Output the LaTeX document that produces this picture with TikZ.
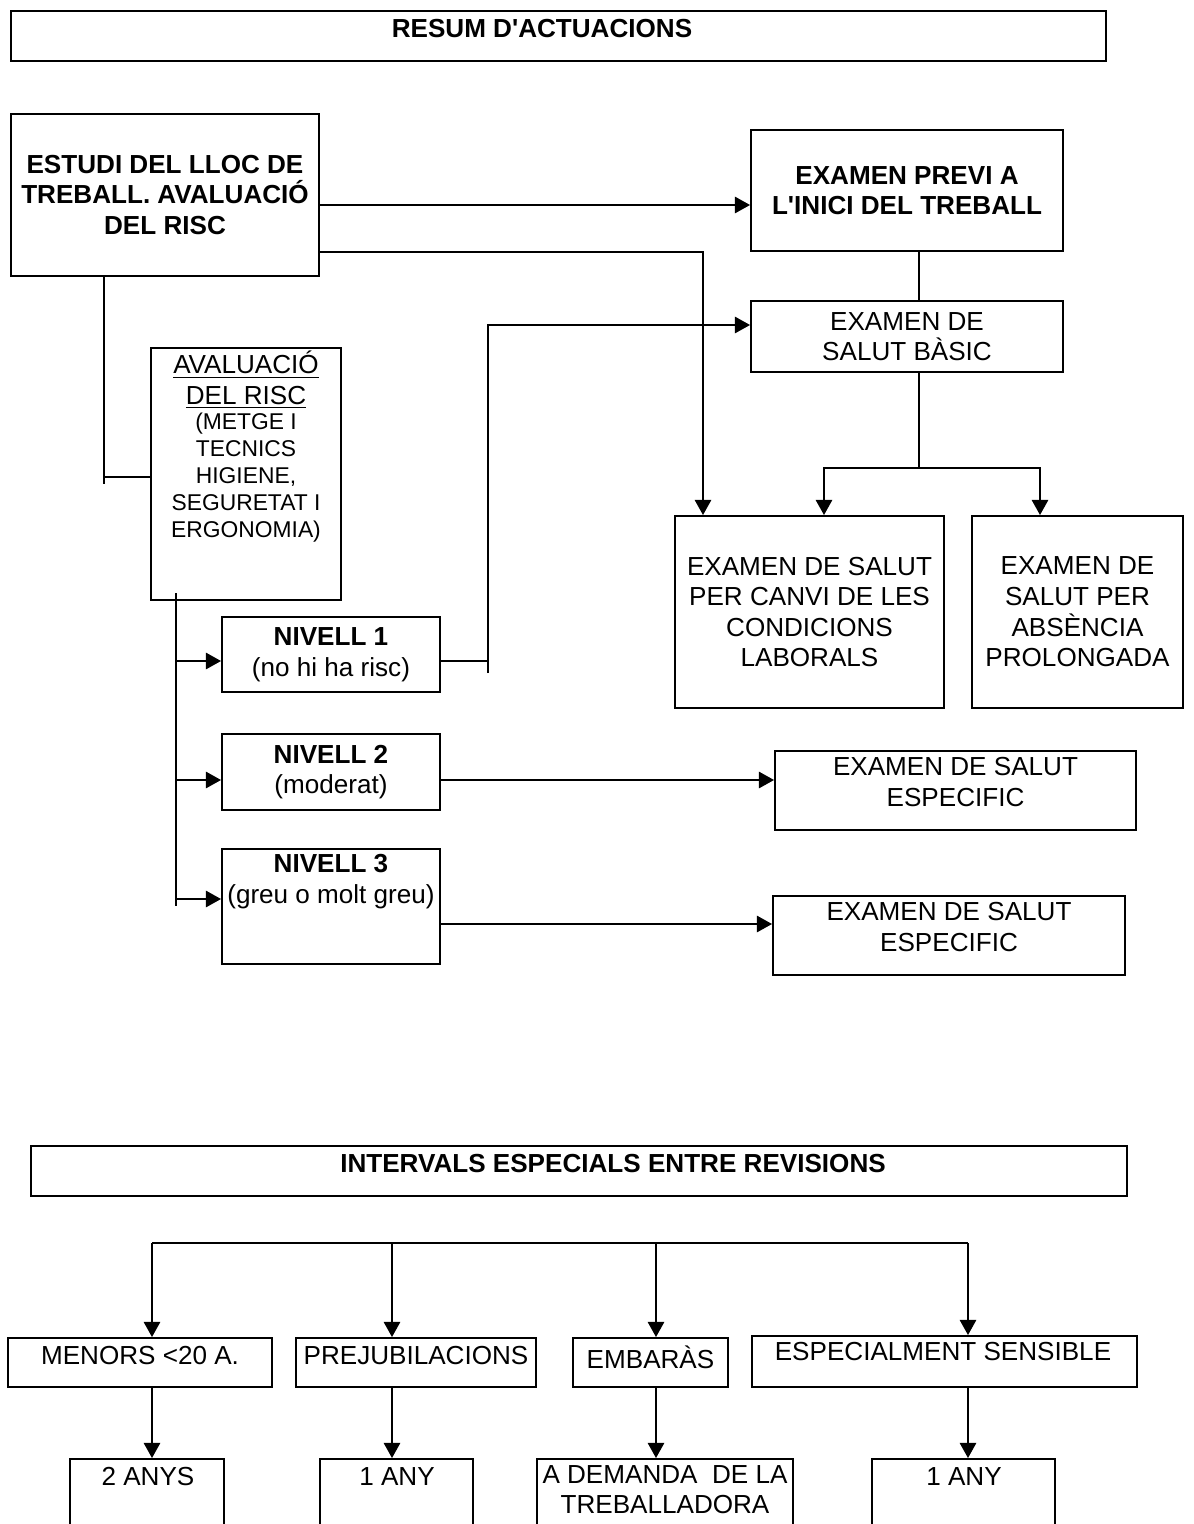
\documentclass[tikz,border=0pt]{standalone}
\usepackage{fontspec}
\setmainfont{Liberation Sans}
\usetikzlibrary{arrows.meta}
\newcommand{\px}{0.46pt}

\begin{document}
\begin{tikzpicture}[x=\px,y=-\px,
    box/.style={draw, line width=0.9pt, inner sep=1pt, align=center, font=\fontsize{12}{14.1}\selectfont},
    bbox/.style={box, font=\fontsize{12}{14.1}\selectfont\bfseries},
    lbl/.style={inner sep=0pt, align=center, font=\fontsize{12}{14.1}\selectfont},
    blbl/.style={lbl, font=\fontsize{12}{14.1}\selectfont\bfseries},
    arr/.style={-{Triangle[length=7pt,width=7.6pt]}},
    line width=0.75pt]
    \useasboundingbox (0,0) rectangle (1193,1524);
    \clip (0,0) rectangle (1193,1524);

    % resum d'actuacions
    \node[box, minimum width=1095*\px, minimum height=50*\px] (ttl) at (558.5,36) {};
    \node[blbl] (ttl-t) at (542,29) {RESUM D\textquotesingle ACTUACIONS};
    \node[bbox, minimum width=308*\px, minimum height=162*\px] (estudi) at (165,195) {ESTUDI DEL LLOC DE\\TREBALL. AVALUACIÓ\\DEL RISC};
    \node[bbox, minimum width=312*\px, minimum height=121*\px] (previ) at (907,190.5) {EXAMEN PREVI A\\L\textquotesingle INICI DEL TREBALL};
    \node[box, minimum width=312*\px, minimum height=71*\px] (basic) at (907,336.5) {EXAMEN DE\\SALUT BÀSIC};
    \node[box, minimum width=269*\px, minimum height=192*\px] (canvi) at (809.5,612) {EXAMEN DE SALUT\\PER CANVI DE LES\\CONDICIONS\\LABORALS};
    \node[box, minimum width=211*\px, minimum height=192*\px] (absenc) at (1077.5,612) {EXAMEN DE\\SALUT PER\\ABSÈNCIA\\PROLONGADA};
    \node[box, minimum width=190*\px, minimum height=252*\px] (avalua) at (246,474) {};
    \node[lbl] (avalua-t) at (246,380) {\underline{AVALUACIÓ}\\\underline{DEL RISC}};
    \node[lbl, font=\fontsize{10.5}{12.4}\selectfont] (avalua-s) at (246,478) {(METGE I\\TECNICS\\HIGIENE,\\SEGURETAT I\\ERGONOMIA)};
    \node[box, minimum width=218*\px, minimum height=75*\px] (niv1) at (331,654.5) {\textbf{NIVELL 1}\\(no hi ha risc)};
    \node[box, minimum width=218*\px, minimum height=76*\px] (niv2) at (331,772) {\textbf{NIVELL 2}\\(moderat)};
    \node[box, minimum width=218*\px, minimum height=115*\px] (niv3) at (331,906.5) {};
    \node[lbl] (niv3-t) at (331,881.5) {\textbf{NIVELL 3}\\(greu o molt greu)};
    \node[box, minimum width=361*\px, minimum height=79*\px] (espec1) at (955.5,790.5) {};
    \node[lbl] (espec1-t) at (955.5,782) {EXAMEN DE SALUT\\ESPECIFIC};
    \node[box, minimum width=352*\px, minimum height=79*\px] (espec2) at (949,935.5) {};
    \node[lbl] (espec2-t) at (949,927) {EXAMEN DE SALUT\\ESPECIFIC};

    \draw[arr] (estudi.east |- 0,205) -- (previ.west |- 0,205);
    \draw[arr] (estudi.east |- 0,252) -| (canvi.north -| 703,0);
    \draw (previ.south -| 919,0) -- (basic.north -| 919,0);
    \coordinate (split) at (919,468);
    \draw (basic.south -| split) -- (split);
    \draw[arr] (split) -| (canvi.north -| 824,0);
    \draw[arr] (split) -| (absenc.north -| 1040,0);
    \coordinate (estudi-end) at (104,484);
    \coordinate (avalua-in) at (104,477);
    \draw (estudi.south -| estudi-end) -- (estudi-end);
    \draw (avalua-in) -- (avalua.west |- avalua-in);
    \coordinate (trunk-top) at (176,593);
    \coordinate (trunk-bot) at (176,906);
    \draw (trunk-top) -- (trunk-bot);
    \draw[arr] (trunk-top |- 0,661) -- (niv1.west |- 0,661);
    \draw[arr] (trunk-top |- 0,780) -- (niv2.west |- 0,780);
    \draw[arr] (trunk-top |- 0,899) -- (niv3.west |- 0,899);
    \coordinate (loop-bot) at (488,673);
    \draw[arr] (niv1.east |- 0,661) -- (loop-bot |- 0,661) |- (basic.west |- 0,325);
    \draw (loop-bot) -- (loop-bot |- 0,661);
    \draw[arr] (niv2.east |- 0,780) -- (espec1.west |- 0,780);
    \draw[arr] (niv3.east |- 0,924) -- (espec2.west |- 0,924);

    % intervals
    \node[box, minimum width=1096*\px, minimum height=50*\px] (interv) at (579,1171) {};
    \node[blbl] (interv-t) at (613,1164) {INTERVALS ESPECIALS ENTRE REVISIONS};
    \node[box, minimum width=264*\px, minimum height=49*\px] (menors) at (140,1362.5) {};
    \node[lbl] (menors-t) at (140,1356) {MENORS <20 A.};
    \node[box, minimum width=240*\px, minimum height=49*\px] (prejub) at (416,1362.5) {};
    \node[lbl] (prejub-t) at (416,1356) {PREJUBILACIONS};
    \node[box, minimum width=155*\px, minimum height=49*\px] (embaras) at (650.5,1362.5) {};
    \node[lbl] (embaras-t) at (650.5,1357) {EMBARÀS};
    \node[box, minimum width=385*\px, minimum height=51*\px] (sensible) at (944.5,1361.5) {};
    \node[lbl] (sensible-t) at (943,1352) {ESPECIALMENT SENSIBLE};
    \node[box, minimum width=154*\px, minimum height=86*\px] (any2) at (147,1502) {};
    \node[lbl] (any2-t) at (148,1477) {2 ANYS};
    \node[box, minimum width=153*\px, minimum height=86*\px] (any1a) at (396.5,1502) {};
    \node[lbl] (any1a-t) at (397,1477) {1 ANY};
    \node[box, minimum width=256*\px, minimum height=86*\px] (demanda) at (665,1502) {};
    \node[lbl] (demanda-t) at (665,1489.5) {A DEMANDA \ DE LA\\TREBALLADORA};
    \node[box, minimum width=183*\px, minimum height=86*\px] (any1b) at (963.5,1502) {};
    \node[lbl] (any1b-t) at (964,1477) {1 ANY};

    \coordinate (bar-l) at (152,1243);
    \coordinate (bar-r) at (968,1243);
    \draw (bar-l) -- (bar-r);
    \draw[arr] (bar-l) -- (menors.north -| bar-l);
    \draw[arr] (392,1243) -- (prejub.north -| 392,0);
    \draw[arr] (656,1243) -- (embaras.north -| 656,0);
    \draw[arr] (bar-r) -- (sensible.north -| bar-r);
    \draw[arr] (menors.south -| bar-l) -- (any2.north -| bar-l);
    \draw[arr] (prejub.south -| 392,0) -- (any1a.north -| 392,0);
    \draw[arr] (embaras.south -| 656,0) -- (demanda.north -| 656,0);
    \draw[arr] (sensible.south -| bar-r) -- (any1b.north -| bar-r);
\end{tikzpicture}
\end{document}
